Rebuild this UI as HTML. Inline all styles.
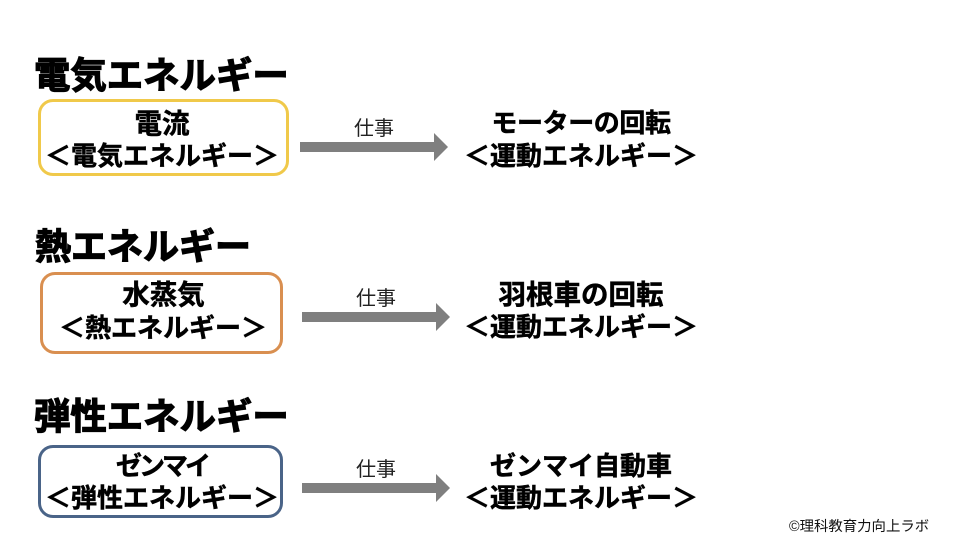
<!DOCTYPE html>
<html lang="ja">
<head>
<meta charset="utf-8">
<style>
html,body{margin:0;padding:0;background:#fff}
#p{position:relative;width:960px;height:540px;overflow:hidden;background:#fff;font-family:"Liberation Sans","Noto Sans CJK JP",sans-serif;color:#000}
.t{position:absolute;white-space:nowrap;font-weight:700;line-height:1}
.h{font-size:36.4px;-webkit-text-stroke:1.2px #000}
.b{font-size:26px;text-align:center;-webkit-text-stroke:.5px #000;transform:translateX(-50%)}
.l{font-size:27.5px}
.w{position:absolute;font-weight:400;font-size:20px;line-height:1;white-space:nowrap;color:#222;transform:translateX(-50%)}
.box{position:absolute;box-sizing:border-box;border-radius:15px;background:#fff}
svg{position:absolute;left:0;top:0}
</style>
</head>
<body>
<div id="p">
<div class="t h" style="left:34px;top:58px">電気エネルギー</div>
<div class="t h" style="left:35px;top:229px;font-size:36px">熱エネルギー</div>
<div class="t h" style="left:34px;top:399px">弾性エネルギー</div>

<div class="box" style="left:38px;top:99px;width:251px;height:77px;border:3px solid #f0c94a"></div>
<div class="box" style="left:40px;top:272px;width:243px;height:82px;border:3px solid #d98f50"></div>
<div class="box" style="left:38px;top:445px;width:245px;height:73px;border:3px solid #4a6488"></div>

<div class="t b l" style="left:162px;top:110px">電流</div>
<div class="t b" style="left:162px;top:143px">＜電気エネルギー＞</div>
<div class="t b l" style="left:163.5px;top:281px">水蒸気</div>
<div class="t b" style="left:163px;top:315px">＜熱エネルギー＞</div>
<div class="t b" style="left:162px;top:453px;letter-spacing:-3px">ゼンマイ</div>
<div class="t b" style="left:162px;top:485px">＜弾性エネルギー＞</div>

<div class="t b" style="left:581px;top:110px;letter-spacing:-.4px">モーターの回転</div>
<div class="t b" style="left:581px;top:143px">＜運動エネルギー＞</div>
<div class="t b l" style="left:581px;top:281px">羽根車の回転</div>
<div class="t b" style="left:581px;top:314px">＜運動エネルギー＞</div>
<div class="t b" style="left:581px;top:453px">ゼンマイ自動車</div>
<div class="t b" style="left:581px;top:485px">＜運動エネルギー＞</div>

<div class="w" style="left:374px;top:119px">仕事</div>
<div class="w" style="left:376px;top:289px">仕事</div>
<div class="w" style="left:376px;top:460px">仕事</div>

<svg width="960" height="540" viewBox="0 0 960 540">
<polygon fill="#7f7f7f" points="300,142 434,142 434,133 448,147 434,161 434,152 300,152"/>
<polygon fill="#7f7f7f" points="302,312 436,312 436,303 450,317 436,331 436,322 302,322"/>
<polygon fill="#7f7f7f" points="302,483 436,483 436,474 450,488 436,502 436,493 302,493"/>
</svg>

<div style="position:absolute;left:789px;top:520px;font-size:14.4px;line-height:1;white-space:nowrap;color:#111">©理科教育力向上ラボ</div>
</div>
</body>
</html>
